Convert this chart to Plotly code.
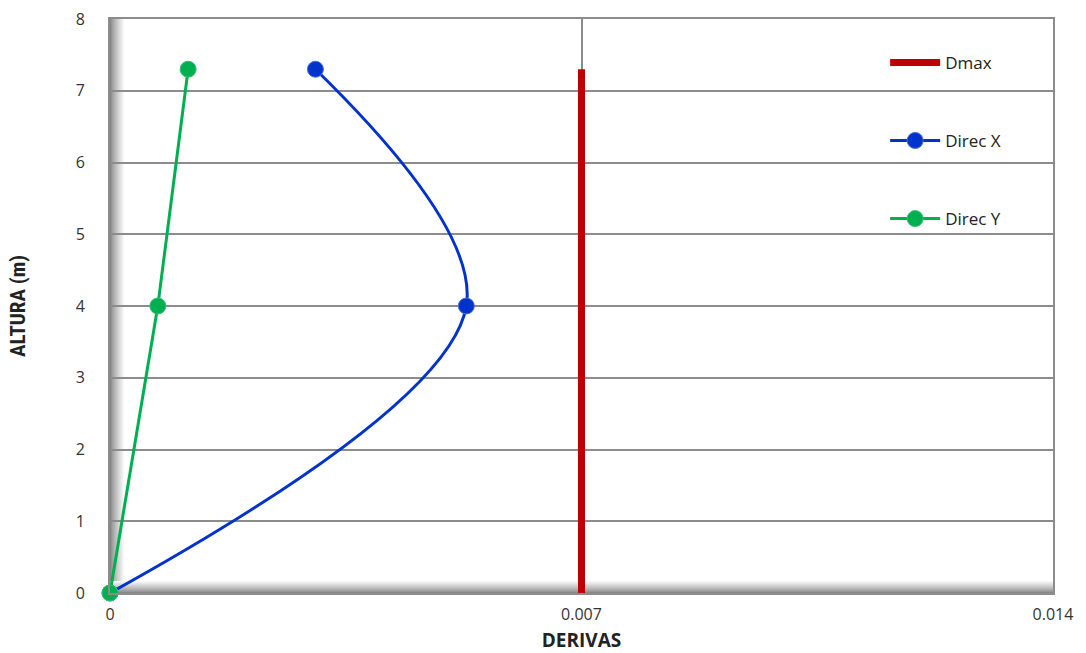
import plotly.graph_objects as go

# Story drift profile
alturas = [0, 4, 7.3]
deriva_x = [0, 0.00529, 0.00305]
deriva_y = [0, 0.00071, 0.00116]

# Allowable drift limit
dmax_valor = 0.007
dmax_alturas = [0, 7.3]

x_ticks = [0, 0.007, 0.014]
x_tick_text = ["0", "0.007", "0.014"]
y_ticks = [0, 1, 2, 3, 4, 5, 6, 7, 8]

fig = go.Figure()

fig.add_trace(go.Scatter(
    x=[dmax_valor] * len(dmax_alturas), y=dmax_alturas, mode="lines",
    name="Dmax", legendgroup="a",
    line=dict(color="#c00000", width=7),
))
fig.add_trace(go.Scatter(
    x=deriva_x, y=alturas, mode="lines+markers",
    name="Direc X", legendgroup="b", cliponaxis=False,
    line=dict(color="#0033cc", width=3, shape="spline", smoothing=1),
    marker=dict(color="#0033cc", size=16, line=dict(color="#4d70d9", width=1)),
))
fig.add_trace(go.Scatter(
    x=deriva_y, y=alturas, mode="lines+markers",
    name="Direc Y", legendgroup="c", cliponaxis=False,
    line=dict(color="#00b050", width=3),
    marker=dict(color="#00b050", size=16, line=dict(color="#33c070", width=1)),
))

# Shaded left wall and floor
shapes = []
wall_steps = 14
for i in range(wall_steps):
    t = i / wall_steps
    g = int(135 + (255 - 135) * t ** 0.8)
    col = f"rgb({g},{g},{g})"
    shapes.append(dict(
        type="rect", xref="x", yref="paper", xsizemode="pixel", xanchor=0,
        x0=i, x1=i + 1, y0=0, y1=1, fillcolor=col, line=dict(width=0),
        layer="below",
    ))
floor_steps = 12
for i in range(floor_steps):
    t = i / floor_steps
    g = int(135 + (255 - 135) * t ** 0.8)
    col = f"rgb({g},{g},{g})"
    shapes.append(dict(
        type="rect", xref="paper", yref="y", ysizemode="pixel", yanchor=0,
        x0=0, x1=1, y0=i, y1=i + 1, fillcolor=col, line=dict(width=0),
        layer="below",
    ))

fig.update_layout(
    width=1086, height=653,
    margin=dict(l=110, r=33, t=19, b=60),
    paper_bgcolor="white", plot_bgcolor="white",
    font=dict(family="Open Sans, DejaVu Sans, sans-serif", color="#333333", size=16),
    shapes=shapes,
    showlegend=True,
    legend=dict(
        x=0.822, y=0.955, xanchor="left", yanchor="top",
        bgcolor="rgba(0,0,0,0)", tracegroupgap=53, itemwidth=50,
        font=dict(size=17, color="#222222", family="Open Sans, DejaVu Sans, sans-serif"),
    ),
    xaxis=dict(
        range=[0, 0.014], tickvals=x_ticks, ticktext=x_tick_text,
        showgrid=True, gridcolor="#8c8c8c", gridwidth=1.5, automargin=False,
        zeroline=False, showline=True, linecolor="#8c8c8c", linewidth=2, mirror=True,
        ticks="", ticklabelstandoff=6,
        title=dict(text="<b>DERIVAS</b>", standoff=14,
                   font=dict(size=19, color="#222222", family="Open Sans, DejaVu Sans, sans-serif")),
    ),
    yaxis=dict(
        range=[0, 8], tickvals=y_ticks,
        showgrid=True, gridcolor="#8c8c8c", gridwidth=1.5, automargin=False,
        zeroline=False, showline=True, linecolor="#8c8c8c", linewidth=2, mirror=True,
        ticks="", ticklabelstandoff=20,
        title=dict(text="<b>ALTURA (m)</b>", standoff=44,
                   font=dict(size=21, color="#222222",
                             family="Liberation Sans Narrow, Roboto Condensed, Roboto, sans-serif")),
    ),
)

fig.write_html("out.html")
